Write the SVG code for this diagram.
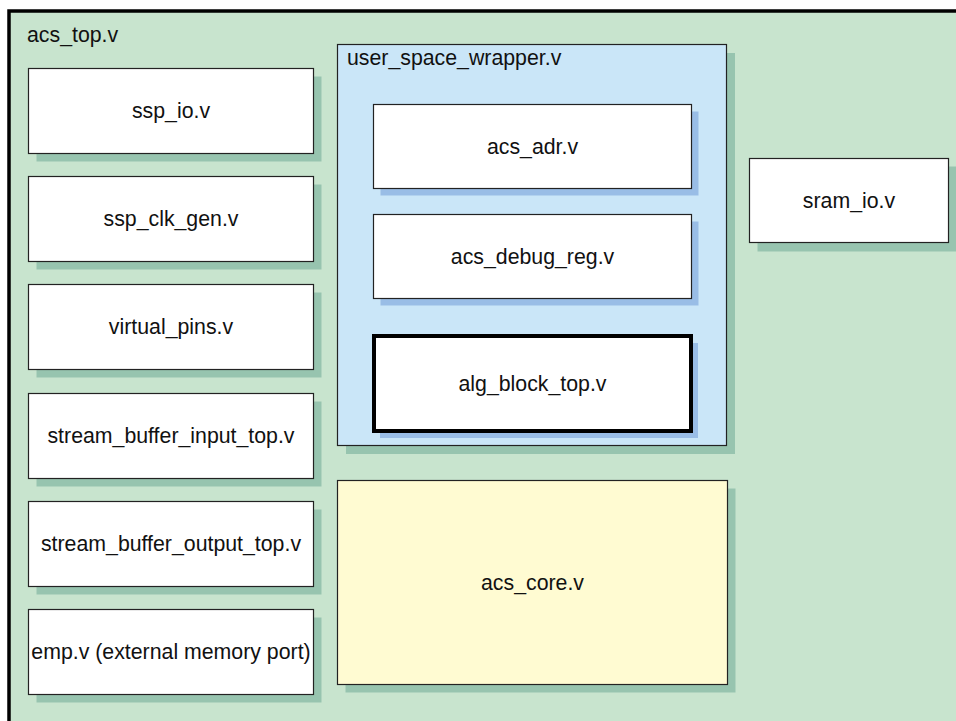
<svg xmlns="http://www.w3.org/2000/svg" width="956" height="721" viewBox="0 0 956 721">
<style>
text{font-family:"Liberation Sans",Arial,sans-serif;font-size:21.3px;fill:#111;}
.c{text-anchor:middle;}
.box{fill:#fff;stroke:#222;stroke-width:1.2;}
.gs{fill:#97c4af;}
.bs{fill:#99bde6;}
</style>
<rect x="0" y="0" width="956" height="721" fill="#fff"/>
<g id="acs_top">
<rect x="9" y="11" width="970" height="730" fill="#c8e4ce" stroke="#000" stroke-width="3.5"/>
<text x="27" y="42">acs_top.v</text>
</g>
<g id="ssp_io">
<rect class="gs" x="36.5" y="76.5" width="285" height="85"/>
<rect class="box" x="28.5" y="68.5" width="285" height="85"/>
<text class="c" x="171" y="118">ssp_io.v</text>
</g>
<g id="ssp_clk_gen">
<rect class="gs" x="36.5" y="184.5" width="285" height="85"/>
<rect class="box" x="28.5" y="176.5" width="285" height="85"/>
<text class="c" x="171" y="226">ssp_clk_gen.v</text>
</g>
<g id="virtual_pins">
<rect class="gs" x="36.5" y="292.5" width="285" height="85"/>
<rect class="box" x="28.5" y="284.5" width="285" height="85"/>
<text class="c" x="171" y="334">virtual_pins.v</text>
</g>
<g id="stream_buffer_input_top">
<rect class="gs" x="36.5" y="401.5" width="285" height="85"/>
<rect class="box" x="28.5" y="393.5" width="285" height="85"/>
<text class="c" x="171" y="443">stream_buffer_input_top.v</text>
</g>
<g id="stream_buffer_output_top">
<rect class="gs" x="36.5" y="509.5" width="285" height="85"/>
<rect class="box" x="28.5" y="501.5" width="285" height="85"/>
<text class="c" x="171" y="551">stream_buffer_output_top.v</text>
</g>
<g id="emp">
<rect class="gs" x="36.5" y="617.5" width="285" height="85"/>
<rect class="box" x="28.5" y="609.5" width="285" height="85"/>
<text class="c" x="171" y="659">emp.v (external memory port)</text>
</g>
<g id="user_space_wrapper">
<rect class="gs" x="346" y="53" width="389" height="401"/>
<rect x="337.5" y="44.5" width="389" height="401" fill="#cae6f8" stroke="#222" stroke-width="1.2"/>
<text x="347" y="65">user_space_wrapper.v</text>
</g>
<g id="acs_adr">
<rect class="bs" x="380.5" y="111.5" width="318" height="84"/>
<rect class="box" x="373.5" y="104.5" width="318" height="84"/>
<text class="c" x="532.5" y="154">acs_adr.v</text>
</g>
<g id="acs_debug_reg">
<rect class="bs" x="380.5" y="221.5" width="318" height="84"/>
<rect class="box" x="373.5" y="214.5" width="318" height="84"/>
<text class="c" x="532.5" y="264">acs_debug_reg.v</text>
</g>
<g id="alg_block_top">
<rect class="bs" x="380" y="343" width="318" height="95"/>
<rect x="374" y="336" width="317" height="95" fill="#fff" stroke="#000" stroke-width="4"/>
<text class="c" x="532.5" y="391">alg_block_top.v</text>
</g>
<g id="acs_core">
<rect class="gs" x="345.5" y="488.5" width="390" height="204"/>
<rect x="337.5" y="480.5" width="390" height="204" fill="#fffbd2" stroke="#222" stroke-width="1.2"/>
<text class="c" x="532.5" y="590">acs_core.v</text>
</g>
<g id="sram_io">
<rect class="gs" x="757.5" y="166.5" width="199" height="85"/>
<rect class="box" x="749.5" y="158.5" width="199" height="84"/>
<text class="c" x="849" y="208">sram_io.v</text>
</g>
</svg>
